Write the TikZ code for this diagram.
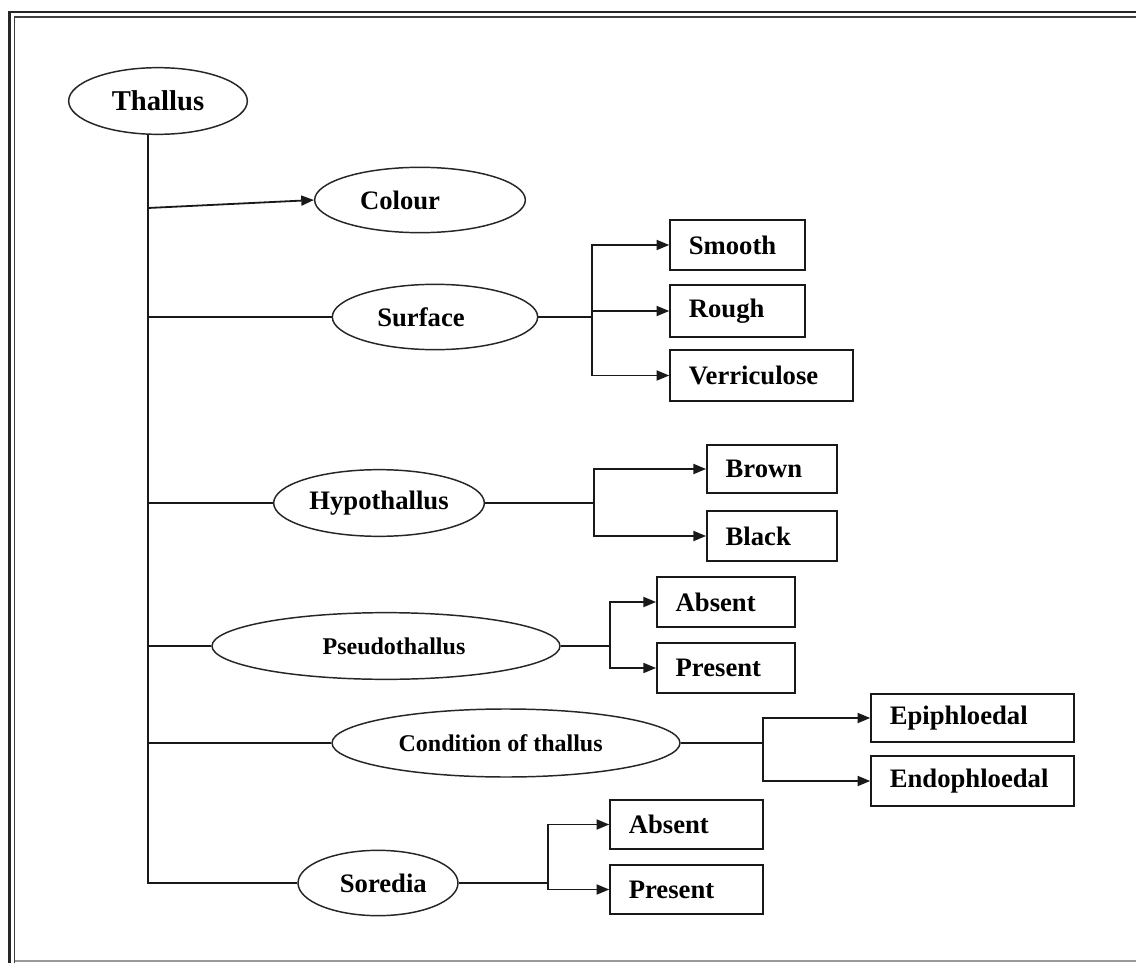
\documentclass[tikz,border=0pt]{standalone}
\usepackage{fontspec}
\setmainfont{Liberation Serif}
\usetikzlibrary{shapes.geometric,arrows.meta}

\begin{document}
\begin{tikzpicture}[x=0.75pt,y=-0.75pt,
  every node/.style={font=\bfseries\fontsize{20}{24}\selectfont},
  oval/.style 2 args={ellipse,draw=black!85,line width=1.1pt,fill=white,
    inner sep=0pt,minimum width=#1,minimum height=#2},
  leaf/.style 2 args={rectangle,draw=black!90,line width=1.4pt,
    inner xsep=14pt,inner ysep=0pt,text width=#1,align=left,minimum height=#2},
  link/.style={line width=1.35pt,black!90},
  arr/.style={link,-{Triangle[length=9.5pt,width=7.5pt]}},
  smaller/.style={font=\bfseries\fontsize{18}{22}\selectfont}]

\useasboundingbox (0,0) rectangle (1136,963);
\fill[white] (0,0) rectangle (1136,963);

% page frame: double rule on the top and left, thin rule at the bottom
\draw[line width=1.8pt,black!85] (9.5,963) -- (9.5,12) -- (1136,12);
\draw[line width=1.4pt,black!75] (14.5,963) -- (14.5,17) -- (1136,17);
\draw[line width=0.9pt,black!40] (14.5,961) -- (1136,961);

% root and first-level characters
\node[oval={134pt}{50pt},font=\bfseries\fontsize{21.5}{25}\selectfont] (thallus) at (158,101) {Thallus};
\node[oval={158pt}{49pt}] (colour)  at (420,200) {\hspace*{-30pt}Colour};
\node[oval={154pt}{49pt}] (surface) at (435,317) {\hspace*{-21pt}Surface};
\node[oval={158pt}{50pt}] (hypo)    at (379,503) {Hypothallus};
\node[oval={261pt}{50pt},smaller] (pseudo) at (386,646) {\hspace*{12pt}Pseudothallus};
\node[oval={261pt}{51pt},smaller] (cond)   at (506,743) {\hspace*{-8pt}Condition of thallus};
\node[oval={120pt}{49pt}] (soredia) at (378,883) {\hspace*{8pt}Soredia};

% character states
\node[leaf={73pt}{37.5pt}]  (smooth)   at (737.5,245)   {Smooth};
\node[leaf={73pt}{39pt}]    (rough)    at (737.5,311)   {Rough};
\node[leaf={109pt}{38pt}]   (verric)   at (761.5,375.5) {Verriculose};
\node[leaf={69.5pt}{36pt}]  (brown)    at (772,469)     {Brown};
\node[leaf={69.5pt}{37.5pt}] (black)   at (772,536)     {Black};
\node[leaf={75.5pt}{37.5pt}] (absentA) at (726,602)     {Absent};
\node[leaf={75.5pt}{37.5pt}] (presentA) at (726,668)    {Present};
\node[leaf={124pt}{36pt}]   (epi)      at (972.5,718)   {Epiphloedal};
\node[leaf={124pt}{37.5pt}] (endo)     at (972.5,781)   {Endophloedal};
\node[leaf={86.5pt}{37pt}]  (absentB)  at (686.5,824.5) {Absent};
\node[leaf={86.5pt}{37pt}]  (presentB) at (686.5,889.5) {Present};

% trunk and its taps
\coordinate (trunk) at (148,135);
\coordinate (tapC)  at (148,208);
\draw[link] (trunk) -- (trunk |- soredia.west) -- (soredia.west);
\draw[arr]  (tapC) -- (colour.west);
\draw[link] (trunk |- surface.west) -- (surface.west);
\draw[link] (trunk |- hypo.west) -- (hypo.west);
\draw[link] (trunk |- pseudo.west) -- (pseudo.west);
\draw[link] (trunk |- cond.west) -- (cond.west);

% branch columns
\coordinate (bSurf) at (592,0);
\coordinate (bHypo) at (594,0);
\coordinate (bPse)  at (610,0);
\coordinate (bCond) at (763,0);
\coordinate (bSor)  at (548,0);

\draw[link] (surface.east) -- (surface.east -| bSurf);
\draw[arr]  (surface.east -| bSurf) |- (smooth.west);
\draw[arr]  (bSurf |- rough.west) -- (rough.west);
\draw[arr]  (surface.east -| bSurf) |- (verric.west);

\draw[link] (hypo.east) -- (hypo.east -| bHypo);
\draw[arr]  (hypo.east -| bHypo) |- (brown.west);
\draw[arr]  (hypo.east -| bHypo) |- (black.west);

\draw[link] (pseudo.east) -- (pseudo.east -| bPse);
\draw[arr]  (pseudo.east -| bPse) |- (absentA.west);
\draw[arr]  (pseudo.east -| bPse) |- (presentA.west);

\draw[link] (cond.east) -- (cond.east -| bCond);
\draw[arr]  (cond.east -| bCond) |- (epi.west);
\draw[arr]  (cond.east -| bCond) |- (endo.west);

\draw[link] (soredia.east) -- (soredia.east -| bSor);
\draw[arr]  (soredia.east -| bSor) |- (absentB.west);
\draw[arr]  (soredia.east -| bSor) |- (presentB.west);
\end{tikzpicture}
\end{document}
